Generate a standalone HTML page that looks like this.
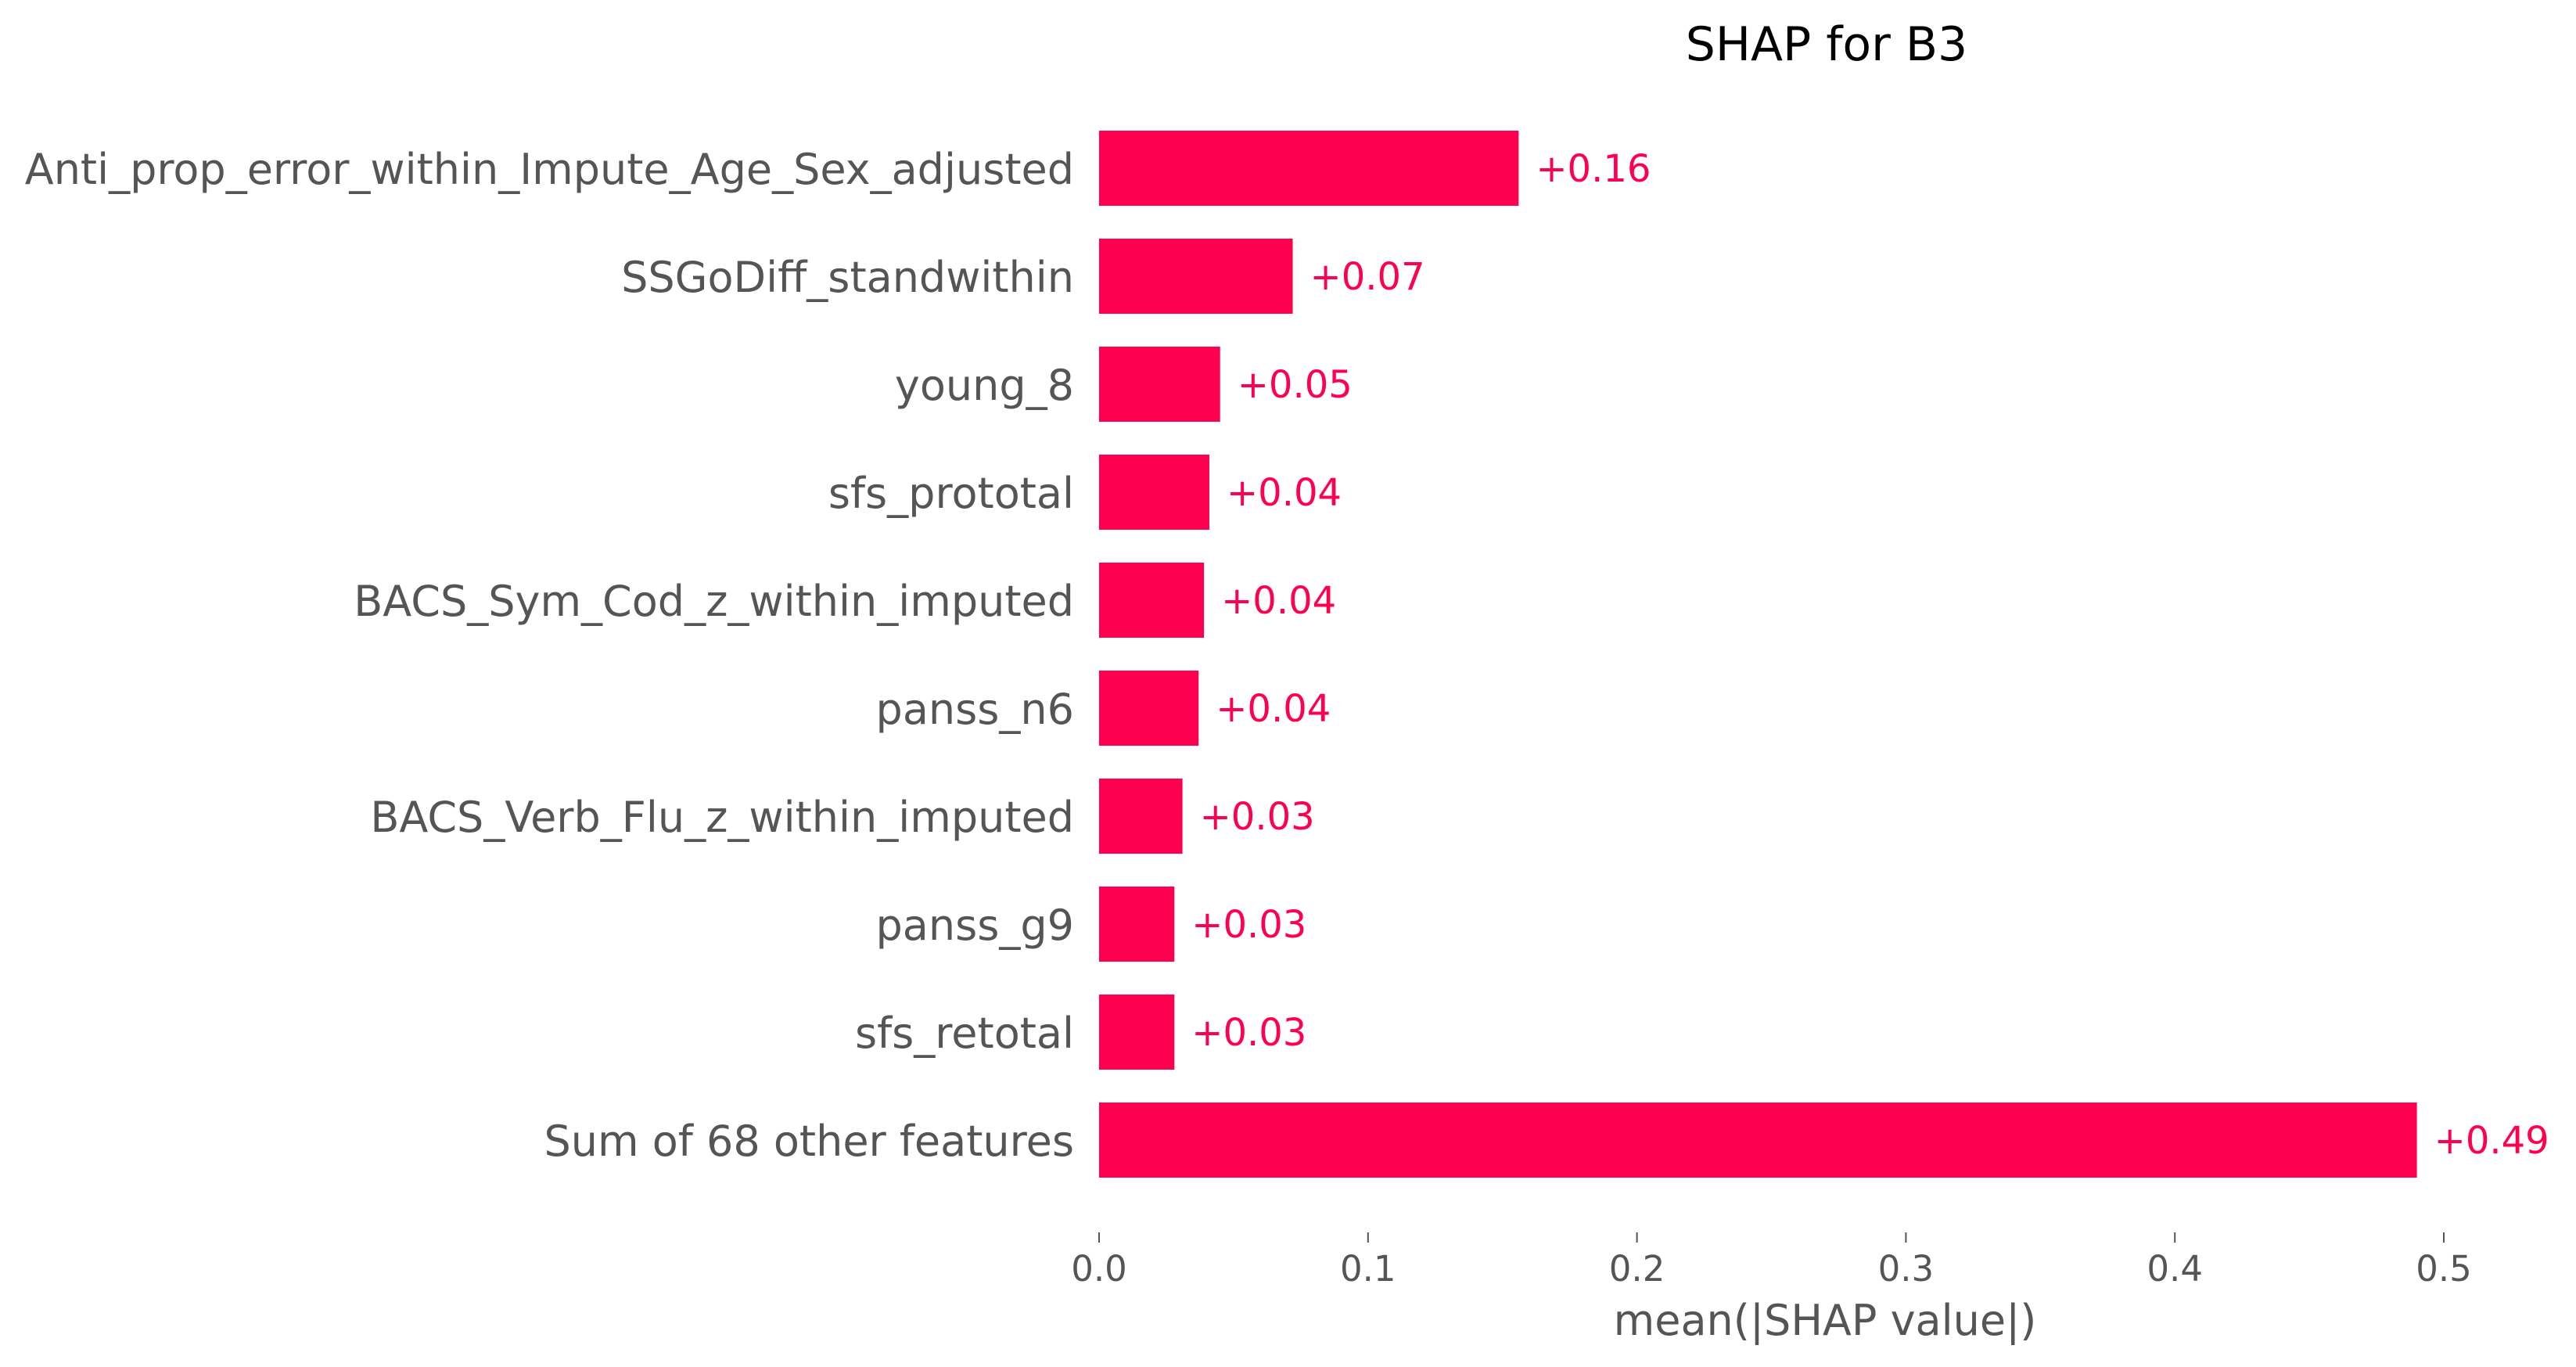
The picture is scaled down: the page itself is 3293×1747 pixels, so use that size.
<!DOCTYPE html>
<html><head><meta charset="utf-8"><style>
html,body{margin:0;padding:0;background:#fff;}
svg{display:block;font-family:"DejaVu Sans","Liberation Sans",sans-serif;}
</style></head><body>
<svg id="chart" width="3293" height="1747" viewBox="0 0 3293 1747" xmlns="http://www.w3.org/2000/svg">
<rect width="3293" height="1747" fill="#fff"/>
<text x="2335" y="77" font-size="60" fill="#000" text-anchor="middle">SHAP for B3</text>
<g id="bars"></g>
<g id="xaxis"></g>
<text x="2333" y="1706" font-size="54" fill="#555" text-anchor="middle">mean(|SHAP value|)</text>
</svg>
<script>
const categories = ["Anti_prop_error_within_Impute_Age_Sex_adjusted","SSGoDiff_standwithin","young_8","sfs_prototal","BACS_Sym_Cod_z_within_imputed","panss_n6","BACS_Verb_Flu_z_within_imputed","panss_g9","sfs_retotal","Sum of 68 other features"];
const values = [0.156, 0.072, 0.045, 0.041, 0.039, 0.037, 0.031, 0.028, 0.028, 0.49];
const valueLabels = ["+0.16","+0.07","+0.05","+0.04","+0.04","+0.04","+0.03","+0.03","+0.03","+0.49"];
const xTicks = [0, 0.1, 0.2, 0.3, 0.4, 0.5];
const xTickLabels = ["0.0","0.1","0.2","0.3","0.4","0.5"];

const NS = "http://www.w3.org/2000/svg";
const x0 = 1405, pxPerUnit = 3438;
function xScale(v){ return x0 + v * pxPerUnit; }
const rowTop = 215, rowStep = 138;
function yScale(i){ return rowTop + i * rowStep; }
const barH = 96;

const gb = document.getElementById('bars');
categories.forEach((c, i) => {
  const cy = yScale(i);
  const r = document.createElementNS(NS, 'rect');
  r.setAttribute('x', xScale(0));
  r.setAttribute('y', cy - barH/2);
  r.setAttribute('width', xScale(values[i]) - xScale(0));
  r.setAttribute('height', barH);
  r.setAttribute('fill', '#ff0051');
  
  
  gb.appendChild(r);

  const l = document.createElementNS(NS, 'text');
  l.setAttribute('x', 1373);
  l.setAttribute('y', cy + 20);
  l.setAttribute('font-size', '54');
  l.setAttribute('fill', '#555');
  l.setAttribute('text-anchor', 'end');
  l.textContent = c;
  
  
  gb.appendChild(l);

  const v = document.createElementNS(NS, 'text');
  v.setAttribute('x', xScale(values[i]) + 22);
  v.setAttribute('y', cy + 17);
  v.setAttribute('font-size', '48');
  v.setAttribute('fill', '#ff0051');
  v.textContent = valueLabels[i];
  
  
  gb.appendChild(v);
});

const gx = document.getElementById('xaxis');
xTicks.forEach((t, i) => {
  const x = xScale(t);
  const tk = document.createElementNS(NS, 'line');
  tk.setAttribute('x1', x); tk.setAttribute('x2', x);
  tk.setAttribute('y1', 1575); tk.setAttribute('y2', 1588);
  tk.setAttribute('stroke', '#555'); tk.setAttribute('stroke-width', '2');
  
  
  gx.appendChild(tk);
  const tl = document.createElementNS(NS, 'text');
  tl.setAttribute('x', x); tl.setAttribute('y', 1637);
  tl.setAttribute('font-size', '45');
  tl.setAttribute('fill', '#555');
  tl.setAttribute('text-anchor', 'middle');
  tl.textContent = xTickLabels[i];
  
  
  gx.appendChild(tl);
});
</script>
</body></html>
